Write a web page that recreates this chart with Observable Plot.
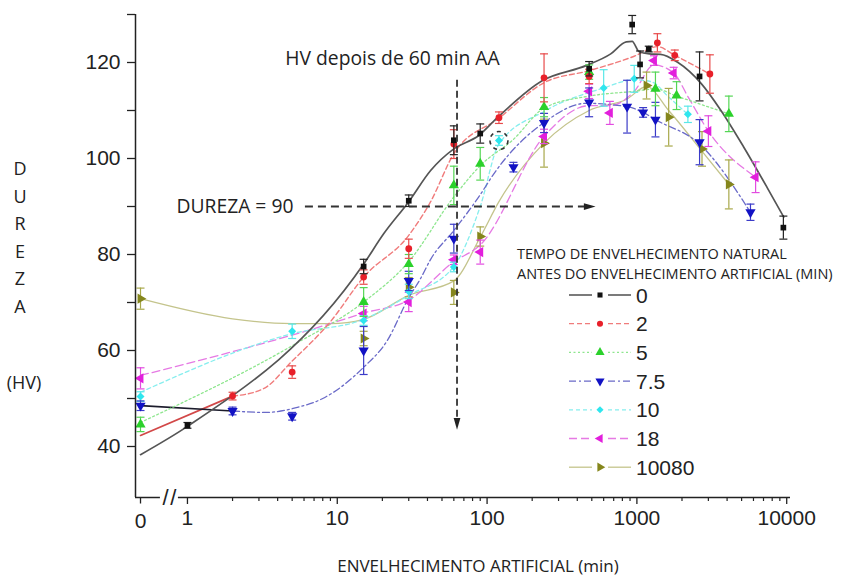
<!DOCTYPE html>
<html><head><meta charset="utf-8">
<script src="https://cdn.jsdelivr.net/npm/d3@7"></script>
<script src="https://cdn.jsdelivr.net/npm/@observablehq/plot@0.6"></script>
<style>
html,body{margin:0;padding:0;background:#fff;}
#wrap{position:relative;width:857px;height:578px;overflow:hidden;background:#fff;}
#wrap svg{position:absolute;left:0;top:0;}
</style></head><body><div id="wrap"></div>
<script>
// ---------- data (x = artificial ageing, min; "0" drawn at the broken-axis slot) ----------
const seriesKeys = ["0", "2", "5", "7.5", "10", "18", "10080"];

// measured points: [minutes, HV, ±error]
const pts_0 = [[1,44.4,0.6],[15,77.5,1.5],[30,91.2,1.2],[60,103.8,3],[90,105.2,2],[480,118.7,1.5],[930,127.9,1.9],[1050,119.6,2.8],[1200,122.8,0.6],[2620,117.1,5.1],[9500,85.6,2.4]];
const pts_2 = [[2,50.5,0.8],[5,55.5,1.3],[15,75.3,1.5],[30,81.2,2],[60,103,3],[120,108.5,1.2],[240,116.8,5],[480,117.1,1.5],[1370,124.1,1.9],[1790,121.5,1.1],[3070,117.6,4]];
const pts_5 = [[0,44.6,1.5],[15,70.1,3],[30,78,2],[60,94.4,4],[90,98.9,3.4],[240,110.7,2],[480,118,1.5],[1330,114.5,3.5],[1840,113.1,2.9],[4110,109.3,3.7]];
const pts_75 = [[0,48.5,1],[2,47.4,0.8],[5,46.3,0.8],[15,60,5],[30,74.5,2],[60,83.3,3],[150,98.2,1],[240,107.4,2],[480,111.7,3],[860,110.8,5.5],[1100,109.6,1],[1330,108.1,3.6],[2620,103.4,4.7],[5730,88.8,1.7]];
const pts_10 = [[0,50.4,1],[5,64,1.5],[15,66.25,1],[30,72.3,1.5],[60,77.4,1],[120,103.75,1],[600,114.7,3.8],[960,116.6,2.8],[2190,109.2,1.7]];
const pts_18 = [[0,54.2,2.2],[15,67.7,1.5],[30,70.1,2],[60,78.9,1],[90,80.5,2.5],[240,104.6,1.5],[480,114,1.5],[660,109.5,2.4],[1300,120.4,1],[1760,117.8,1.2],[3000,105.7,3.2],[6200,96.1,3.2]];
const pts_10080 = [[0,70.8,2.2],[15,62.5,1.5],[30,73.2,2],[60,72.1,2.5],[90,83.75,2],[240,103.2,5],[1160,115.2,2.8],[1630,108.6,6],[2720,102,3.6],[4110,94.6,5.1]];

// fitted curves: [minutes, HV]
const fitSolid_2 = [[0,42.3],[2,50.5]];
const fitSolid_75 = [[0,48.5],[2,47.4]];
const fit_0 = [[0,38.3],[1,44.2],[15,78],[20.4,84.3],[30,91],[42,97.5],[60,102],[88,104.8],[117,108.5],[233,116.2],[462,119.4],[669,121.8],[850,124.3],[930,124.4],[1030,122.3],[1210,121.8],[1440,121.7],[1860,120.1],[2690,115.6],[3640,110],[5160,102.4],[7390,94],[9560,87.8]];
const fit_2 = [[2,50.5],[3.2,52],[5,57.8],[9,66],[15,75.3],[30,84],[42,91],[60,101],[120,108.4],[240,115.8],[480,118.3],[960,121.3],[1370,123.3],[1790,121.5],[3070,117.6]];
const fit_5 = [[0,45],[5,61],[15,70.1],[30,78.5],[60,92],[90,98.5],[150,104],[240,110.5],[480,113],[960,114],[1330,114.5],[1840,113],[4110,109.3]];
const fit_75 = [[2,47.4],[3.3,47.1],[5.5,48.2],[8,50],[15,56.5],[21.5,62],[30,71],[36,75],[42,79],[60,85],[88,92],[115,97.5],[240,107.5],[460,111.5],[860,110.8],[1100,109.6],[1330,108.1],[2620,103],[5730,88.8]];
const fit_10 = [[0,51.3],[5,63.5],[15,66.5],[30,71.5],[60,77.5],[90,90],[120,103],[240,109.8],[600,114.7],[960,116.4],[1250,116],[1630,112.8],[2190,109.2]];
const fit_18 = [[0,54.8],[9,65.6],[15,67.8],[30,70.5],[60,78.5],[90,82],[240,104.6],[480,111],[660,111],[960,114],[1300,119.5],[1760,117.8],[2200,112.8],[3000,105.7],[6200,96.1]];
const fit_10080 = [[0,70.8],[2,66.6],[5,65.6],[9,65.6],[15,66.5],[30,71.5],[60,74.5],[90,83.6],[120,91],[240,103.2],[480,110],[860,112.4],[1160,115],[1630,110],[2690,101.7],[4110,94.6]];

// axis ticks
const xMajorTicks = [1, 10, 100, 1000, 10000];
const xZeroLabel = ["0"];
const xMinorTicks = [2,3,4,5,6,7,8,9,20,30,40,50,60,70,80,90,200,300,400,500,600,700,800,900,2000,3000,4000,5000,6000,7000,8000,9000];
const yTicks = [40,50,60,70,80,90,100,110,120,130];
const yLabelled = [40,60,80,100,120];

// annotations
const highlightPt = [[120,103.75]];
const vArrow = [[63,116.3,43.5]];      // x, y top, y tip
const hArrow = [[6.13,90,530]];        // x start, y, x tip
const annTop = [{x:4.5, y:120.8, t:"HV depois de 60 min AA"}];
const annLeft = [{x:5.1, y:90, t:"DUREZA = 90"}];
const legendTitle = ["TEMPO DE ENVELHECIMENTO NATURAL", "ANTES DO ENVELHECIMENTO ARTIFICIAL (MIN)"];
const xTitle = "ENVELHECIMENTO ARTIFICIAL (min)";
const yTitleLetters = ["D","U","R","E","Z","A"];
const yTitleUnit = "(HV)";

// ---------- styling ----------
const X_ZERO = 0.486, X_MIN = 0.45, X_MAX = 10600, Y_MIN = 29.375, Y_MAX = 130;
const BREAK_L = 0.66, BREAK_R = 0.87, SLASHES = [0.715, 0.805];
const xp = m => (m === 0 ? X_ZERO : m);

const pointSets = [pts_0, pts_2, pts_5, pts_75, pts_10, pts_18, pts_10080];
const fitSets = [fit_0, fit_2, fit_5, fit_75, fit_10, fit_18, fit_10080];
const markerFill = ["#111111","#e8202a","#2bd12b","#1212c4","#2ee6ee","#e21fdc","#85861c"];
const barColor   = ["#222222","#e84a4a","#55d655","#3b3bc8","#5ae8e8","#e24ce0","#a8a84a"];
const lineColor  = ["#555555","#f07b7b","#8ee68e","#6a6ac8","#86eeee","#e67ae4","#c4c48c"];
const lineDash   = [null,"5,3","2,2.5","7,3,2,3","4,3","8,4",null];
const lineWidth  = [1.7,1.4,1.3,1.3,1.3,1.3,1.3];
const symbolName = ["square","circle","triangle","triangle","diamond2","triangle","triangle"];
const symbolRot  = [0,0,0,180,0,-90,90];
const symbolR    = [3.2,3.4,3.8,3.8,3.6,3.8,3.8];

const capSymbol = { draw(ctx, size) { const w = Math.sqrt(size / Math.PI); ctx.moveTo(-w, 0); ctx.lineTo(w, 0); } };
const downTickSymbol = { draw(ctx, size) { const w = Math.sqrt(size / Math.PI); ctx.moveTo(0, 0); ctx.lineTo(0, w); } };
const headSymbol = { draw(ctx, size) { const r = Math.sqrt(size / Math.PI); ctx.moveTo(0, 0); ctx.lineTo(-0.75*r, 2.6*r); ctx.lineTo(0.75*r, 2.6*r); ctx.closePath(); } };

const marks = [];
const OS = "'Open Sans', sans-serif";
const LS = "'Liberation Sans', Arial, sans-serif";

// fitted curves
marks.push(Plot.line(fitSolid_2, {x: d => xp(d[0]), y: d => d[1], stroke: "#d24848", strokeWidth: 1.7}));
marks.push(Plot.line(fitSolid_75, {x: d => xp(d[0]), y: d => d[1], stroke: "#1c1c2c", strokeWidth: 1.7}));
for (let i = 6; i >= 0; i--) {
  marks.push(Plot.line(fitSets[i], {x: d => xp(d[0]), y: d => d[1], stroke: lineColor[i], strokeWidth: lineWidth[i], strokeDasharray: lineDash[i] || undefined, curve: "monotone-x"}));
}
// error bars + markers
for (let i = 6; i >= 0; i--) {
  const P = pointSets[i];
  marks.push(Plot.ruleX(P, {x: d => xp(d[0]), y1: d => d[1] - d[2], y2: d => d[1] + d[2], stroke: barColor[i], strokeWidth: 1.2}));
  marks.push(Plot.dot(P, {x: d => xp(d[0]), y: d => d[1] + d[2], symbol: capSymbol, r: 4, stroke: barColor[i], strokeWidth: 1.2, fill: "none"}));
  marks.push(Plot.dot(P, {x: d => xp(d[0]), y: d => d[1] - d[2], symbol: capSymbol, r: 4, stroke: barColor[i], strokeWidth: 1.2, fill: "none"}));
  marks.push(Plot.dot(P, {x: d => xp(d[0]), y: d => d[1], symbol: symbolName[i], rotate: symbolRot[i], r: symbolR[i], fill: markerFill[i], stroke: "none"}));
}
// dashed highlight circle
marks.push(Plot.dot(highlightPt, {x: d => d[0], y: d => d[1], r: 9, stroke: "#333", strokeWidth: 1.6, strokeDasharray: "4,4", fill: "none"}));

// annotation arrows
marks.push(Plot.ruleX(vArrow, {x: d => d[0], y1: d => d[1], y2: d => d[2] + 2, stroke: "#333", strokeWidth: 1.8, strokeDasharray: "7,4"}));
marks.push(Plot.dot(vArrow, {x: d => d[0], y: d => d[2], symbol: headSymbol, rotate: 180, r: 4.5, fill: "#222", stroke: "none"}));
marks.push(Plot.ruleY(hArrow, {y: d => d[1], x1: d => d[0], x2: d => d[2] * 0.93, stroke: "#333", strokeWidth: 1.8, strokeDasharray: "8,5"}));
marks.push(Plot.dot(hArrow, {x: d => d[2], y: d => d[1], symbol: headSymbol, rotate: 90, r: 4.5, fill: "#222", stroke: "none"}));
marks.push(Plot.text(annTop, {x: "x", y: "y", text: "t", textAnchor: "start", fontFamily: OS, fontSize: 19.3, fill: "#222"}));
marks.push(Plot.text(annLeft, {x: "x", y: "y", text: "t", textAnchor: "end", fontFamily: OS, fontSize: 19.3, fill: "#222"}));

// axes
marks.push(Plot.ruleX([X_MIN], {y1: Y_MIN, y2: Y_MAX, stroke: "#222", strokeWidth: 1.5}));
marks.push(Plot.ruleY([{a: X_MIN, b: BREAK_L}, {a: BREAK_R, b: X_MAX}], {y: () => Y_MIN, x1: "a", x2: "b", stroke: "#222", strokeWidth: 1.5}));
marks.push(Plot.text(SLASHES, {x: d => d, y: () => Y_MIN, text: () => "/", fontSize: 22, fontFamily: LS, fill: "#222"}));
marks.push(Plot.axisX(xMajorTicks, {tickSize: 7, tickPadding: 6, tickFormat: d => String(d), stroke: "#222", strokeWidth: 1.3, fill: "#222", label: null}));
marks.push(Plot.dot(xZeroLabel, {x: () => X_ZERO, y: () => Y_MIN, symbol: downTickSymbol, r: 6, stroke: "#222", strokeWidth: 1.3, fill: "none"}));
marks.push(Plot.text(xZeroLabel, {x: () => X_ZERO, y: () => Y_MIN, dy: 24, text: d => d, fontSize: 21, fontFamily: LS, fill: "#222"}));
marks.push(Plot.axisX(xMinorTicks, {tickSize: 4, tickFormat: () => "", stroke: "#222", strokeWidth: 1.2, label: null}));
marks.push(Plot.axisY(yTicks, {tickSize: 8, tickPadding: 7, tickFormat: d => (yLabelled.includes(d) ? String(d) : ""), stroke: "#222", strokeWidth: 1.3, fill: "#222", label: null}));

const chart = Plot.plot({
  width: 857, height: 578,
  marginLeft: 135, marginRight: 67, marginTop: 14, marginBottom: 81,
  x: {type: "log", domain: [X_MIN, X_MAX], label: null},
  y: {type: "linear", domain: [Y_MIN, Y_MAX], label: null},
  style: {fontFamily: LS, fontSize: "21px", color: "#222", background: "white", overflow: "visible"},
  marks
});
document.getElementById("wrap").appendChild(chart);

// ---------- overlay: axis titles + legend ----------
const ov = d3.select("#wrap").append("svg").attr("width", 857).attr("height", 578).style("pointer-events", "none");
yTitleLetters.forEach((ch, i) => {
  ov.append("text").attr("x", 20).attr("y", 168 + i * 27.6).attr("text-anchor", "middle").attr("dominant-baseline", "central")
    .attr("font-family", OS).attr("font-size", 18).attr("fill", "#222").text(ch);
});
ov.append("text").attr("x", 24).attr("y", 382).attr("text-anchor", "middle").attr("dominant-baseline", "central")
  .attr("font-family", OS).attr("font-size", 18).attr("fill", "#222").text(yTitleUnit);
ov.append("text").attr("x", 478).attr("y", 565).attr("text-anchor", "middle").attr("dominant-baseline", "central")
  .attr("font-family", OS).attr("font-size", 17).attr("fill", "#222").text(xTitle);

legendTitle.forEach((t, i) => {
  ov.append("text").attr("x", 517).attr("y", 253 + i * 20).attr("dominant-baseline", "central")
    .attr("font-family", OS).attr("font-size", 14.5).attr("fill", "#222").text(t);
});
const symType = {square: d3.symbolSquare, circle: d3.symbolCircle, triangle: d3.symbolTriangle, diamond2: d3.symbolDiamond2};
seriesKeys.forEach((k, i) => {
  const y = 295 + i * 28.7;
  const st = lineDash[i] || null;
  [[569, 592], [608, 631]].forEach(([a, b]) => {
    const l = ov.append("line").attr("x1", a).attr("x2", b).attr("y1", y).attr("y2", y)
      .attr("stroke", i === 0 ? "#333" : lineColor[i]).attr("stroke-width", 1.3);
    if (st) l.attr("stroke-dasharray", st);
  });
  ov.append("path").attr("d", d3.symbol(symType[symbolName[i]], Math.PI * symbolR[i] * symbolR[i] * 0.8)())
    .attr("transform", `translate(600,${y}) rotate(${symbolRot[i]})`).attr("fill", markerFill[i]);
  ov.append("text").attr("x", 636).attr("y", y).attr("dominant-baseline", "central")
    .attr("font-family", LS).attr("font-size", 21).attr("fill", "#222").text(k);
});
</script></body></html>
